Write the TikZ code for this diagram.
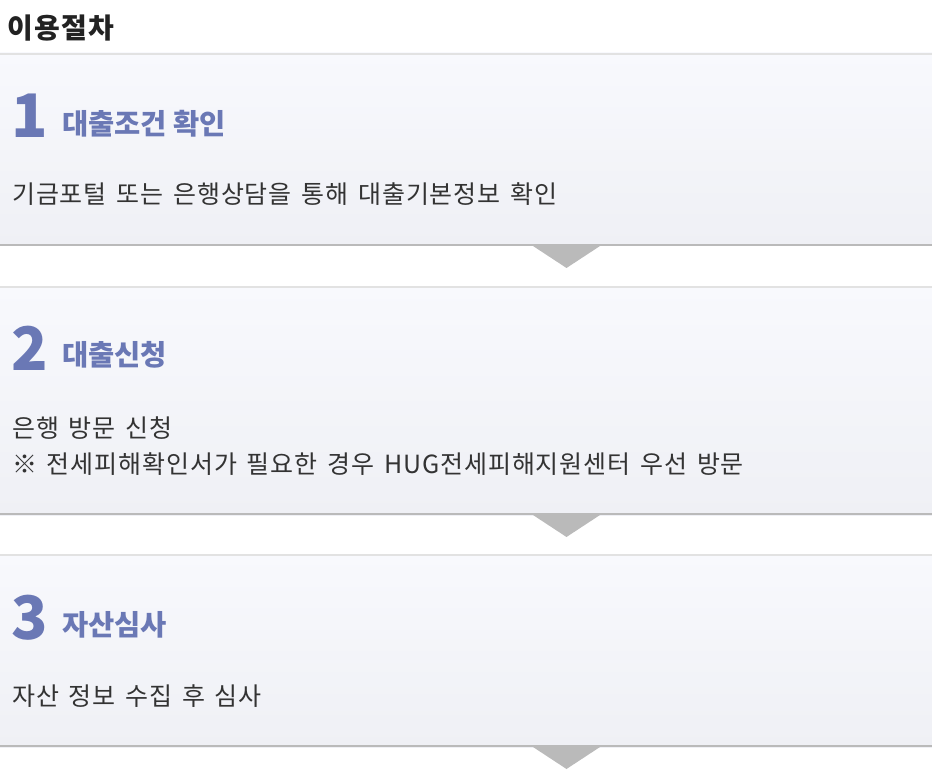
\documentclass[tikz,border=0pt]{standalone}
\usepackage{fontspec}
\setmainfont{Noto Sans CJK KR}
\newfontfamily\bodyfont[LetterSpace=3.6,WordSpace=1.5]{Noto Sans CJK KR}
\usepackage{tikz}
\usetikzlibrary{shapes,decorations}
\usetikzlibrary{arrows.meta, positioning}

\definecolor{stepblue}{HTML}{6A78B5}
\definecolor{bodygray}{HTML}{333333}
\definecolor{titlegray}{HTML}{222222}
\definecolor{boxtop}{HTML}{F8F9FD}
\definecolor{boxbot}{HTML}{EFF0F5}
\definecolor{linelight}{HTML}{E2E2E2}
\definecolor{linedark}{HTML}{BABABA}

\tikzset{
	stepnum/.style={anchor=west, inner sep=0, text=stepblue, font=\bfseries\fontsize{60}{60}\selectfont},
	stephead/.style={anchor=west, inner sep=0, text=stepblue, font=\bfseries\fontsize{28.5}{28.5}\selectfont},
	steptext/.style={anchor=west, inner sep=0, text=bodygray, align=left, font=\bodyfont\fontsize{25}{36}\selectfont},
	stepbox/.style={top color=boxtop, bottom color=boxbot},
	topline/.style={draw=linelight, line width=2pt},
	botline/.style={draw=linedark, line width=2.5pt},
	downtri/.style={fill=linedark}
}

\begin{document}
\begin{tikzpicture}[x=1pt,y=1pt]
					\useasboundingbox (0,0) rectangle (932,-770);
					\node[anchor=west, inner sep=0, text=titlegray, font=\bfseries\fontsize{28}{28}\selectfont\addfontfeature{LetterSpace=5}] (title) at (7,-28) {이용절차};
					\shade[stepbox] (0,-53) rectangle (932,-246);
					\draw[topline] (0,-54) to (932,-54);
					\draw[botline] (0,-245) to (932,-245);
					\fill[downtri] (533,-246) to (600,-246) to (566.5,-268) -- cycle;
					\node[stepnum] (num1) at (11,-116) {1};
					\node[stephead] (head1) at (62,-123.5) {대출조건 확인};
					\node[steptext] (body1) at (12,-194) {기금포털 또는 은행상담을 통해 대출기본정보 확인};
					\shade[stepbox] (0,-286) rectangle (932,-515);
					\draw[topline] (0,-287) to (932,-287);
					\draw[botline] (0,-514) to (932,-514);
					\fill[downtri] (533,-515) to (600,-515) to (566.5,-537) -- cycle;
					\node[stepnum] (num2) at (11,-348) {2};
					\node[stephead] (head2) at (62,-355) {대출신청};
					\node[steptext] (body2) at (12,-446) {은행 방문 신청\\※ 전세피해확인서가 필요한 경우 HUG전세피해지원센터 우선 방문};
					\shade[stepbox] (0,-554) rectangle (932,-747);
					\draw[topline] (0,-555) to (932,-555);
					\draw[botline] (0,-746) to (932,-746);
					\fill[downtri] (533,-747) to (600,-747) to (566.5,-769) -- cycle;
					\node[stepnum] (num3) at (11,-617.5) {3};
					\node[stephead] (head3) at (62,-625) {자산심사};
					\node[steptext] (body3) at (12,-696) {자산 정보 수집 후 심사};
\end{tikzpicture}
\end{document}
